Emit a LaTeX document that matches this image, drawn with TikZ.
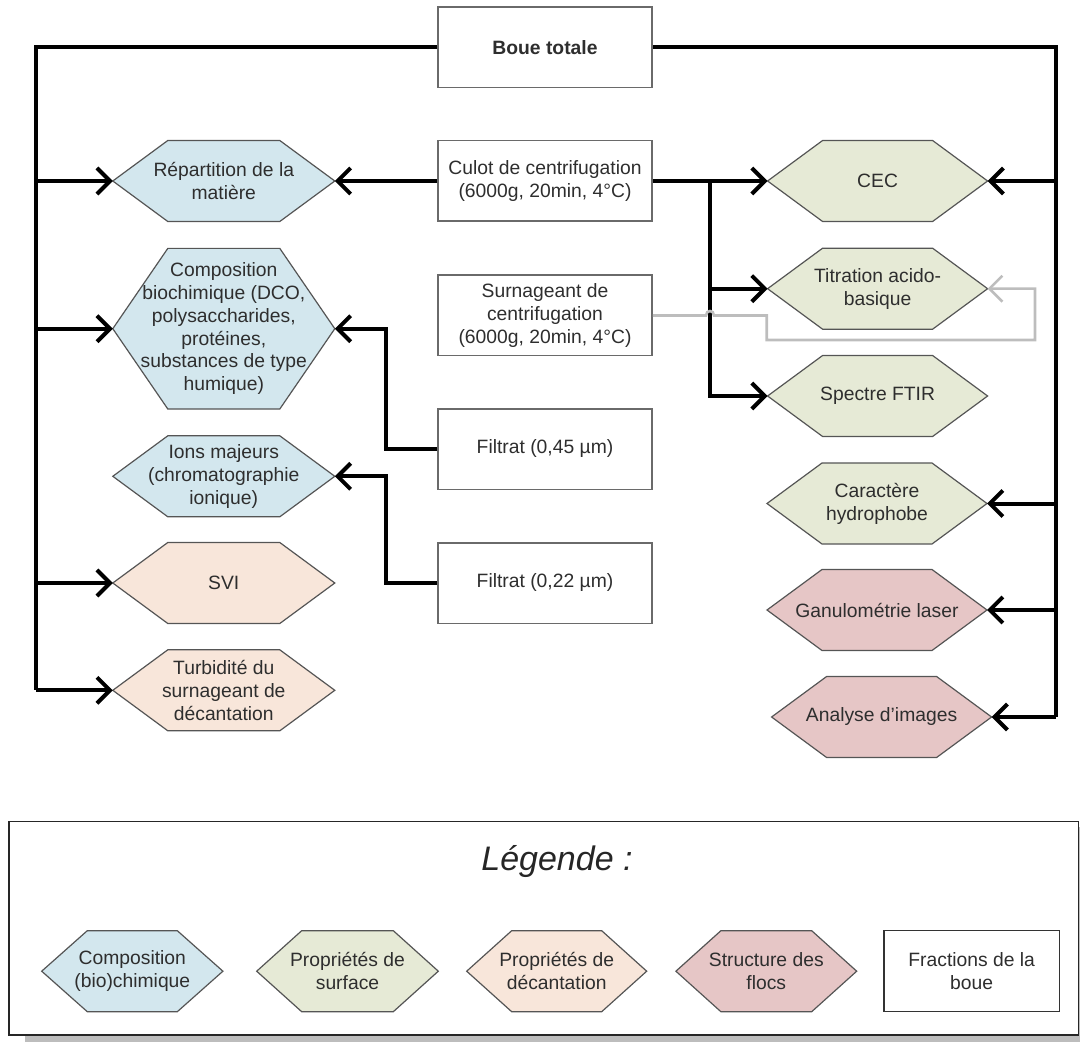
\documentclass[tikz,border=0pt]{standalone}
\usepackage{fontspec}
\setmainfont{Liberation Sans}
\usetikzlibrary{arrows.meta,calc}

\definecolor{txt}{HTML}{2E2E2E}
\definecolor{boxline}{HTML}{6A6A6A}
\definecolor{hexline}{HTML}{555555}
\definecolor{chimie}{HTML}{D3E7EE}
\definecolor{surface}{HTML}{E6EAD6}
\definecolor{decant}{HTML}{F8E6DA}
\definecolor{flocs}{HTML}{E6C6C6}
\definecolor{fraclink}{HTML}{BDBDBD}
\definecolor{shadowgray}{HTML}{BDBDBD}

\newcommand\mainsize{\fontsize{19.3}{22.8}\selectfont}

% hexagon: name, centre x, centre y, half top edge, half height, point offset, fill, text
\newcommand\hexa[8]{%
  \filldraw[hexedge, fill=#7]
    (#2-#4,#3-#5) -- (#2+#4,#3-#5) -- (#2+#4+#6,#3) --
    (#2+#4,#3+#5) -- (#2-#4,#3+#5) -- (#2-#4-#6,#3) -- cycle;
  \coordinate (#1-w) at (#2-#4-#6,#3);
  \coordinate (#1-e) at (#2+#4+#6,#3);
  \node[hextext] (#1) at (#2,#3) {#8};
}

\tikzset{
  hexedge/.style={draw=hexline, line width=1.2pt, line join=miter},
  hextext/.style={align=center, inner sep=0pt, font=\mainsize, text=txt},
  fraction/.style={draw=boxline, line width=1.5pt, fill=white, align=center,
    minimum width=214pt, minimum height=80.5pt, inner sep=0pt,
    font=\mainsize, text=txt},
  bus/.style={draw=black, line width=4pt, line join=miter},
  arr/.style={-{Straight Barb[length=13pt,width=26pt]}},
  graylink/.style={draw=fraclink, line width=2.6pt, line join=miter,
    -{Straight Barb[length=13pt,width=26pt]}},
}

\begin{document}
\begin{tikzpicture}[x=1pt,y=-1pt]
\useasboundingbox (0,0) rectangle (1080,1043);

% ---------- sludge fractions ----------
\node[fraction] (boue) at (545,47.5) {\textbf{Boue totale}};
\node[fraction] (culot) at (545,181) {Culot de centrifugation\\(6000g, 20min, 4°C)};
\node[fraction] (surn) at (545,315.5) {Surnageant de\\centrifugation\\(6000g, 20min, 4°C)};
\node[fraction] (f45) at (545,449) {Filtrat (0,45 µm)};
\node[fraction] (f22) at (545,583) {Filtrat (0,22 µm)};

% ---------- analyses, left column ----------
\hexa{rep}{223.8}{181}{56}{40.5}{55}{chimie}{Répartition de la\\matière}
\hexa{comp}{223.8}{328.7}{56}{80.3}{55}{chimie}{Composition\\biochimique (DCO,\\polysaccharides,\\protéines,\\substances de type\\humique)}
\hexa{ions}{223.8}{476.3}{56}{40.5}{55}{chimie}{Ions majeurs\\(chromatographie\\ionique)}
\hexa{svi}{223.8}{583}{56}{40.5}{55}{decant}{SVI}
\hexa{turb}{223.8}{690.3}{56}{40.5}{55}{decant}{Turbidité du\\surnageant de\\décantation}

% ---------- analyses, right column ----------
\hexa{cec}{877.6}{181}{55}{40.5}{55}{surface}{CEC}
\hexa{tit}{877.6}{288.7}{55}{40.5}{55}{surface}{Titration acido-\\basique}
\hexa{ftir}{877.6}{396}{55}{40.5}{55}{surface}{Spectre FTIR}
\hexa{hydro}{877}{503.5}{55}{40.5}{55}{surface}{Caractère\\hydrophobe}
\hexa{granu}{877}{610}{55}{40.5}{55}{flocs}{Ganulométrie laser}
\hexa{img}{881.6}{717}{55}{40.5}{55}{flocs}{Analyse d'images}

% ---------- connector routing points ----------
\coordinate (lbus) at (36,47.5);
\coordinate (lbusend) at (36,690.3);
\coordinate (rbus) at (1055.5,47.5);
\coordinate (rbusend) at (1055.5,717);
\coordinate (fork) at (710,181);
\coordinate (j45) at (386,449);
\coordinate (j22) at (386,583);

% total sludge to the two buses
\draw[bus] (boue.west) -- (lbus) -- (lbusend);
\draw[bus] (boue.east) -- (rbus) -- (rbusend);

% left bus
\draw[bus,arr] (lbus |- rep-w) -- (rep-w);
\draw[bus,arr] (lbus |- comp-w) -- (comp-w);
\draw[bus,arr] (lbus |- svi-w) -- (svi-w);
\draw[bus,arr] (lbusend) -- (turb-w);

% right bus
\draw[bus,arr] (rbus |- cec-e) -- (cec-e);
\draw[bus,arr] (rbus |- hydro-e) -- (hydro-e);
\draw[bus,arr] (rbus |- granu-e) -- (granu-e);
\draw[bus,arr] (rbusend) -- (img-e);

% pellet
\draw[bus,arr] (culot.east) -- (cec-w);
\draw[bus,arr] (fork |- tit-w) -- (tit-w);
\draw[bus,arr] (fork) -- (fork |- ftir-w) -- (ftir-w);
\draw[bus,arr] (rep-e -| culot.west) -- (rep-e);

% filtrates
\draw[bus,arr] (f45.west) -- (j45) -- (j45 |- comp-e) -- (comp-e);
\draw[bus,arr] (f22.west) -- (j22) -- (j22 |- ions-e) -- (ions-e);

% supernatant to titration, hopping over the pellet line
\coordinate (s1) at (766.7,340);
\coordinate (s2) at (1035,340);
\draw[graylink] (surn.east) -- (706,315.5)
  .. controls (706,309.5) and (714,309.5) .. (714,315.5)
  -- (s1 |- surn.east) -- (s1) -- (s2) -- (s2 |- tit-e) -- (tit-e);

% ---------- legend ----------
\fill[shadowgray] (25,827) rectangle (1090,1041.7);
\node[draw=black!85, line width=1.5pt, fill=white, minimum width=1069.5pt,
  minimum height=213.7pt, inner sep=0pt] (legend) at (543.75,928.15) {};
\node[font=\fontsize{34}{40}\selectfont\itshape, text=black!85] (legtitle)
  at (557,862) {Légende :};
\hexa{lchim}{132.3}{971.2}{45}{40.5}{45.6}{chimie}{Composition\\(bio)chimique}
\hexa{lsurf}{347.5}{971.2}{45.8}{40.5}{45}{surface}{Propriétés de\\surface}
\hexa{ldec}{556.7}{971.2}{45}{40.5}{45}{decant}{Propriétés de\\décantation}
\hexa{lfloc}{766.3}{971.2}{45.4}{40.5}{45}{flocs}{Structure des\\flocs}
\node[fraction, draw=black!80, minimum width=175.3pt, minimum height=81pt]
  (lfrac) at (971.7,971.2) {Fractions de la\\boue};
\end{tikzpicture}
\end{document}
